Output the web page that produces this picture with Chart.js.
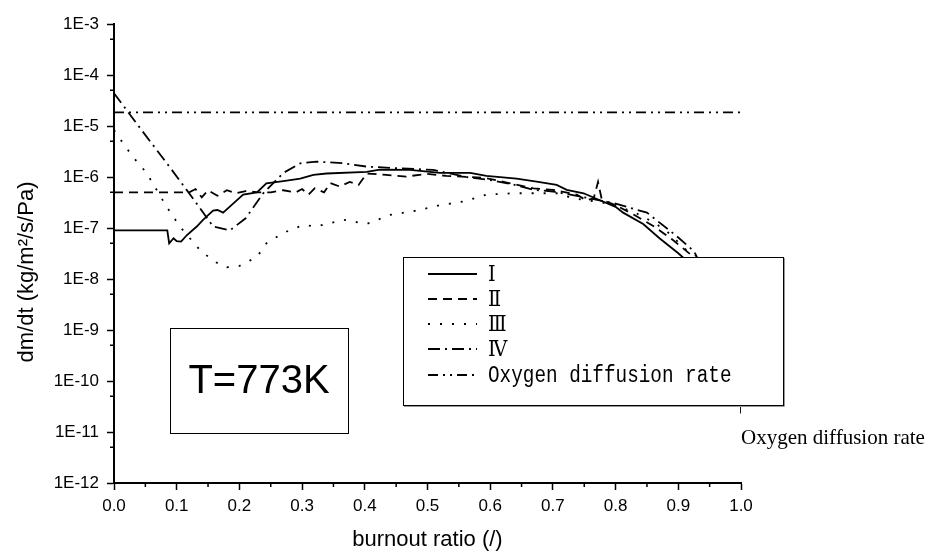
<!DOCTYPE html>
<html>
<head>
<meta charset="utf-8">
<script src="https://cdn.jsdelivr.net/npm/chart.js@4.4.0/dist/chart.umd.min.js"></script>
<style>
  html, body { margin: 0; padding: 0; background: #fff; }
  #wrap { width: 928px; height: 552px; }
</style>
</head>
<body>
<div id="wrap"><canvas id="burnoutChart" width="928" height="552"></canvas></div>
<script>
// burnout ratio / dm/dt values
const xI = [0, 0.085, 0.088, 0.095, 0.1, 0.107, 0.116, 0.132, 0.142, 0.158, 0.165, 0.174, 0.19, 0.206, 0.228, 0.243, 0.27, 0.297, 0.318, 0.339, 0.403, 0.424, 0.472, 0.52, 0.568, 0.594, 0.642, 0.674, 0.706, 0.722, 0.749, 0.775, 0.8, 0.812, 0.844, 0.87, 0.9, 0.93, 0.97, 1.0, 1.0];
const yI = [9e-8, 9e-8, 5e-8, 6.3e-8, 5.5e-8, 5.4e-8, 7.2e-8, 1.07e-7, 1.45e-7, 2.2e-7, 2.25e-7, 2.0e-7, 3e-7, 4.5e-7, 5e-7, 7.5e-7, 8.3e-7, 9.3e-7, 1.1e-6, 1.17e-6, 1.26e-6, 1.4e-6, 1.38e-6, 1.2e-6, 1.2e-6, 1.05e-6, 9.3e-7, 8.1e-7, 7e-7, 5.6e-7, 4.8e-7, 3.5e-7, 2.6e-7, 2.0e-7, 1.2e-7, 6.3e-8, 3.2e-8, 1.5e-8, 3e-9, 1e-9, 2.3e-11];

const xII = [0, 0.12, 0.13, 0.14, 0.15, 0.165, 0.18, 0.195, 0.21, 0.23, 0.25, 0.27, 0.29, 0.3, 0.31, 0.32, 0.335, 0.345, 0.36, 0.376, 0.39, 0.403, 0.434, 0.466, 0.499, 0.53, 0.568, 0.594, 0.63, 0.669, 0.7, 0.738, 0.753, 0.765, 0.772, 0.778, 0.8, 0.83, 0.86, 0.89, 0.92, 0.95, 1.0];
const yII = [5e-7, 5e-7, 5.8e-7, 4e-7, 5.5e-7, 4.3e-7, 5.5e-7, 4.8e-7, 5.3e-7, 5e-7, 5e-7, 5.5e-7, 5e-7, 5.8e-7, 4.5e-7, 6e-7, 5e-7, 7.6e-7, 6.5e-7, 8e-7, 7e-7, 1.17e-6, 1.1e-6, 1.02e-6, 1.15e-6, 1.05e-6, 1e-6, 9.5e-7, 7.6e-7, 6e-7, 5.6e-7, 4.5e-7, 3.5e-7, 3.8e-7, 8e-7, 3.6e-7, 2.8e-7, 1.8e-7, 1.1e-7, 6e-8, 3e-8, 5e-9, 8e-10];

const xIII = [0, 0.015, 0.03, 0.052, 0.084, 0.105, 0.137, 0.16, 0.18, 0.2, 0.228, 0.243, 0.27, 0.302, 0.323, 0.366, 0.403, 0.44, 0.483, 0.52, 0.557, 0.594, 0.637, 0.669, 0.706, 0.733, 0.77, 0.8, 0.833, 0.86, 0.88, 0.913, 0.927, 0.96, 1.0];
const yIII = [8.3e-6, 4.5e-6, 2.5e-6, 1.2e-6, 2.6e-7, 1.07e-7, 3.7e-8, 2.2e-8, 1.7e-8, 1.8e-8, 2.7e-8, 5e-8, 8e-8, 1.15e-7, 1.07e-7, 1.45e-7, 1.2e-7, 1.8e-7, 2.2e-7, 2.8e-7, 3.3e-7, 4.5e-7, 4.8e-7, 4.8e-7, 4.8e-7, 3.8e-7, 3.3e-7, 2.8e-7, 1.95e-7, 1.3e-7, 9e-8, 3.7e-8, 3e-8, 5e-9, 5e-10];

const xIV = [0, 0.041, 0.09, 0.132, 0.158, 0.185, 0.21, 0.238, 0.27, 0.297, 0.323, 0.366, 0.403, 0.456, 0.509, 0.562, 0.6, 0.642, 0.669, 0.7, 0.75, 0.8, 0.85, 0.897, 0.925, 0.96, 1.0];
const yIV = [4.4e-5, 9.3e-6, 1.5e-6, 3e-7, 1.07e-7, 9e-8, 1.55e-7, 4.8e-7, 1.2e-6, 1.85e-6, 2e-6, 1.86e-6, 1.6e-6, 1.48e-6, 1.38e-6, 1e-6, 8.7e-7, 6.9e-7, 5.6e-7, 5.2e-7, 4e-7, 3e-7, 2e-7, 7e-8, 3.5e-8, 5e-9, 6e-10];

const xOxygen = [0, 1];
const yOxygen = [1.85e-5, 1.85e-5];

const seriesLabels = ["Ⅰ", "Ⅱ", "Ⅲ", "Ⅳ", "Oxygen diffusion rate"];
const xTickValues = [0, 0.1, 0.2, 0.3, 0.4, 0.5, 0.6, 0.7, 0.8, 0.9, 1.0];
const xMinorTicks = [0.05, 0.15, 0.25, 0.35, 0.45, 0.55, 0.65, 0.75, 0.85, 0.95];
const yTickValues = [1e-12, 1e-11, 1e-10, 1e-9, 1e-8, 1e-7, 1e-6, 1e-5, 1e-4, 1e-3];
const yMinorTicks = [5e-12, 5e-11, 5e-10, 5e-9, 5e-8, 5e-7, 5e-6, 5e-5, 5e-4];

const pts = (xs, ys) => xs.map((x, i) => ({ x: x, y: ys[i] }));
const sans = "'Liberation Sans', Arial, sans-serif";

function lineSet(label, data, dash) {
    return {
        label: label,
        data: data,
        borderColor: "#000",
        borderWidth: 1.8,
        borderDash: dash,
        pointRadius: 0,
        tension: 0,
        fill: false,
    };
}

// small tick marks between the labelled ones
const minorTicks = {
    id: "minorTicks",
    afterDraw(chart) {
        const { ctx, chartArea, scales } = chart;
        ctx.save();
        ctx.strokeStyle = "#000";
        ctx.lineWidth = 1.5;
        ctx.beginPath();
        xMinorTicks.forEach((v) => {
            const px = scales.x.getPixelForValue(v);
            ctx.moveTo(px, chartArea.bottom);
            ctx.lineTo(px, chartArea.bottom + 4);
        });
        yMinorTicks.forEach((v) => {
            const py = scales.y.getPixelForValue(v);
            ctx.moveTo(chartArea.left, py);
            ctx.lineTo(chartArea.left - 4, py);
        });
        ctx.stroke();
        ctx.restore();
    },
};

// framed legend, temperature box, y title and the loose label
const boxLegend = {
    id: "boxLegend",
    afterDatasetsDraw(chart) {
        const ctx = chart.ctx;
        ctx.save();

        // legend frame
        ctx.fillStyle = "#fff";
        ctx.fillRect(403, 257, 380, 148);
        ctx.strokeStyle = "#999";
        ctx.lineWidth = 1;
        ctx.beginPath();
        ctx.moveTo(784.5, 258);
        ctx.lineTo(784.5, 406.5);
        ctx.lineTo(404, 406.5);
        ctx.stroke();
        ctx.strokeStyle = "#000";
        ctx.strokeRect(403.5, 257.5, 380, 148);

        const rows = [274, 299, 324, 349, 375];
        chart.data.datasets.forEach((ds, i) => {
            const y = rows[i];
            ctx.strokeStyle = "#000";
            ctx.lineWidth = 2;
            ctx.setLineDash(ds.borderDash || []);
            ctx.beginPath();
            ctx.moveTo(428, y);
            ctx.lineTo(477, y);
            ctx.stroke();
            ctx.setLineDash([]);

            ctx.save();
            ctx.translate(488, y);
            ctx.scale(0.84, 1);
            ctx.fillStyle = "#000";
            ctx.font = "23px 'Liberation Mono', 'DejaVu Serif', serif";
            ctx.textAlign = "left";
            ctx.textBaseline = "middle";
            ctx.fillText(ds.label, 0, 1);
            ctx.restore();
        });

        // temperature box
        ctx.fillStyle = "#fff";
        ctx.fillRect(170, 328, 178, 105);
        ctx.strokeStyle = "#000";
        ctx.lineWidth = 1;
        ctx.strokeRect(170.5, 328.5, 178, 105);
        ctx.fillStyle = "#000";
        ctx.font = "40px " + sans;
        ctx.textAlign = "center";
        ctx.textBaseline = "middle";
        ctx.fillText("T=773K", 259, 382);

        ctx.font = "21px 'Liberation Serif', 'Times New Roman', serif";
        ctx.textAlign = "left";
        ctx.fillText("Oxygen diffusion rate", 741, 438);

        // y axis title
        ctx.save();
        ctx.translate(27, 272);
        ctx.rotate(-Math.PI / 2);
        ctx.font = "22px " + sans;
        ctx.textAlign = "center";
        ctx.fillText("dm/dt (kg/m²/s/Pa)", 0, 0);
        ctx.restore();

        ctx.restore();
    },
};

new Chart(document.getElementById("burnoutChart"), {
    type: "line",
    data: {
        datasets: [
            lineSet(seriesLabels[0], pts(xI, yI), []),
            lineSet(seriesLabels[1], pts(xII, yII), [9, 6]),
            lineSet(seriesLabels[2], pts(xIII, yIII), [2, 10]),
            lineSet(seriesLabels[3], pts(xIV, yIV), [12, 5, 2, 5]),
            lineSet(seriesLabels[4], pts(xOxygen, yOxygen), [10, 5, 2, 5, 2, 5]),
        ],
    },
    options: {
        responsive: false,
        animation: false,
        layout: { padding: { top: 24, right: 187, bottom: 0, left: 0 } },
        plugins: {
            legend: { display: false },
            tooltip: { enabled: false },
        },
        scales: {
            x: {
                type: "linear",
                min: 0,
                max: 1,
                afterFit: (s) => { s.height = 69; },
                afterBuildTicks: (s) => { s.ticks = xTickValues.map((v) => ({ value: v })); },
                ticks: {
                    callback: (v) => Number(v).toFixed(1),
                    font: { family: sans, size: 17 },
                    color: "#000",
                    padding: 6,
                    autoSkip: false,
                    maxRotation: 0,
                },
                grid: { drawOnChartArea: false, drawTicks: true, tickLength: 7, tickWidth: 1.5, tickColor: "#000" },
                border: { display: true, color: "#000", width: 2 },
                title: {
                    display: true,
                    text: "burnout ratio (/)",
                    color: "#000",
                    font: { family: sans, size: 22, lineHeight: 1 },
                    padding: { top: 0, bottom: 1 },
                },
            },
            y: {
                type: "logarithmic",
                min: 1e-12,
                max: 1e-3,
                afterFit: (s) => { s.width = 114; },
                afterBuildTicks: (s) => { s.ticks = yTickValues.map((v) => ({ value: v, major: true })); },
                ticks: {
                    callback: (v) => "1E" + Math.round(Math.log10(v)),
                    font: { family: sans, size: 17 },
                    color: "#000",
                    padding: 8,
                    autoSkip: false,
                },
                grid: { drawOnChartArea: false, drawTicks: true, tickLength: 7, tickWidth: 1.5, tickColor: "#000" },
                border: { display: true, color: "#000", width: 2 },
            },
        },
    },
    plugins: [minorTicks, boxLegend],
});
</script>
</body>
</html>
